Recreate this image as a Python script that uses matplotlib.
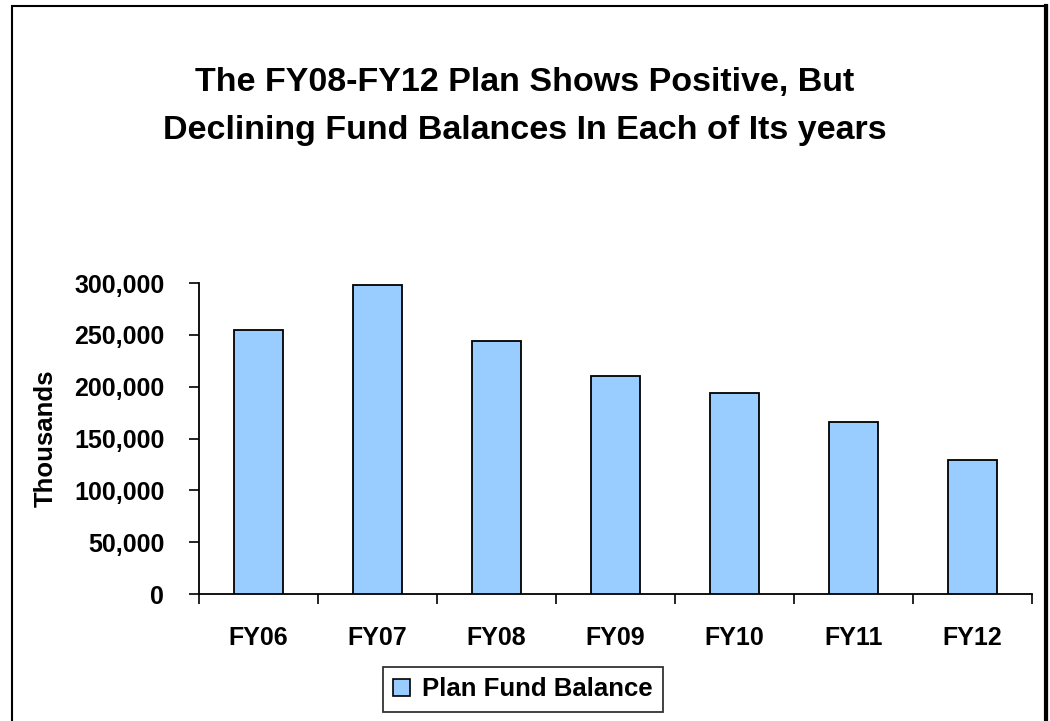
import matplotlib

matplotlib.use("Agg")
import matplotlib.pyplot as plt
from matplotlib.patches import Rectangle, Patch
from matplotlib.lines import Line2D
from matplotlib.ticker import FuncFormatter

# data (thousands)
years = ["FY06", "FY07", "FY08", "FY09", "FY10", "FY11", "FY12"]
balance = [255000, 298000, 244000, 210500, 194000, 166000, 129500]
y_ticks = [0, 50000, 100000, 150000, 200000, 250000, 300000]

BAR_COLOR = "#99CCFF"
FONT = "Liberation Sans"

plt.rcParams["font.family"] = [FONT, "DejaVu Sans"]
plt.rcParams["font.weight"] = "bold"

fig = plt.figure(figsize=(10.5, 7.21), dpi=100)
ax = fig.add_axes([199 / 1050, 1 - 594 / 721, 833 / 1050, 311 / 721])

x = range(len(years))
ax.bar(x, balance, width=0.405, color=BAR_COLOR, edgecolor="black", linewidth=1.3, zorder=3)

ax.set_xlim(-0.5, len(years) - 0.5)
ax.set_ylim(0, 300000)
ax.set_yticks(y_ticks)
ax.yaxis.set_major_formatter(FuncFormatter(lambda v, _: f"{int(v):,}"))

# tick marks on category boundaries, labels at the centres
ax.set_xticks([i - 0.5 for i in range(len(years) + 1)])
ax.set_xticklabels([])
ax.set_xticks(list(x), minor=True)
ax.set_xticklabels(years, minor=True)
ax.tick_params(axis="x", which="major", length=7, width=1.2, direction="out")
ax.tick_params(axis="x", which="minor", length=0, pad=23, labelsize=18)
ax.tick_params(axis="y", length=7, width=1.2, direction="out", pad=18, labelsize=18)

for side in ("top", "right"):
    ax.spines[side].set_visible(False)
for side in ("left", "bottom"):
    ax.spines[side].set_linewidth(1.3)
    ax.spines[side].set_color("black")

ax.set_ylabel("Thousands", fontsize=18.5, fontweight="bold")
ax.yaxis.set_label_coords(-0.169, 0.5)

fig.text(0.5, 1 - 82 / 721, "The FY08-FY12 Plan Shows Positive, But",
         ha="center", va="center", fontsize=24.5, fontweight="bold")
fig.text(0.5, 1 - 130 / 721, "Declining Fund Balances In Each of Its years",
         ha="center", va="center", fontsize=24.5, fontweight="bold")

handle = Patch(facecolor=BAR_COLOR, edgecolor="black", linewidth=1.2)
leg = fig.legend([handle], ["Plan Fund Balance"], loc="center",
                 bbox_to_anchor=(523 / 1050, 1 - 689.5 / 721),
                 prop={"family": FONT, "weight": "bold", "size": 18.5},
                 fancybox=False, frameon=True, handlelength=0.65, handleheight=0.65,
                 handletextpad=0.5, borderpad=0.4, borderaxespad=0)
leg.get_frame().set_edgecolor("black")
leg.get_frame().set_linewidth(1.3)

# outer chart frame (runs off the bottom of the image)
fig.add_artist(Rectangle((12 / 1050, -0.05), 1035 / 1050, 1.05 - 6 / 721,
                         transform=fig.transFigure, fill=False,
                         edgecolor="black", linewidth=1.5))
fig.add_artist(Line2D([1046 / 1050, 1046 / 1050], [-0.05, 1 - 6 / 721],
                      transform=fig.transFigure, color="black", linewidth=3))

fig.savefig("out.png", dpi=100)
